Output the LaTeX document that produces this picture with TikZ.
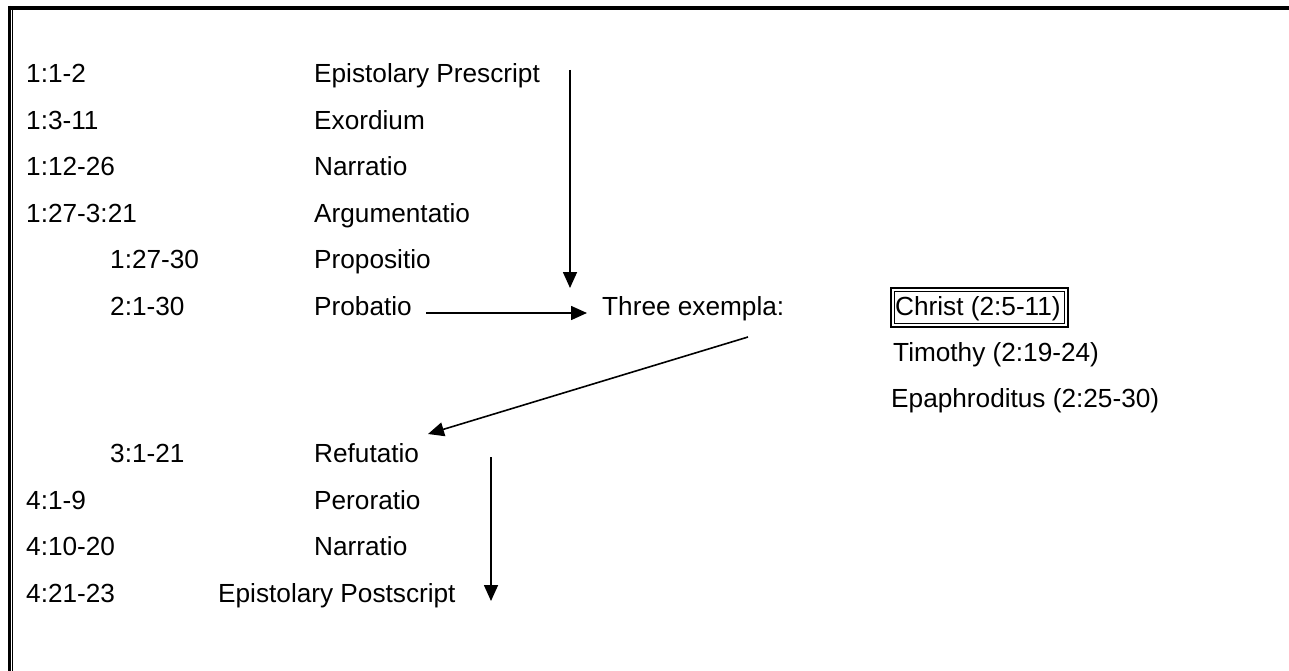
\documentclass[tikz,border=0pt]{standalone}
\usepackage{fontspec}
\setmainfont{Liberation Sans}
\usetikzlibrary{arrows.meta}
\begin{document}
\begin{tikzpicture}[x=1pt,y=-1pt,
  lbl/.style={anchor=base west,inner sep=0pt,font=\fontsize{26.2}{30}\selectfont},
  conn/.style={line width=1.6pt,-{Triangle[length=16pt,width=14pt]}},
  frame/.style={line width=#1}]
\useasboundingbox (0,0) rectangle (1289,671);
\fill[white] (0,0) rectangle (1289,671);
% page frame
\draw[frame=4pt] (8,8) -- (1289,8);
\draw[frame=3pt] (9.5,6) -- (9.5,671);
\draw[frame=1.3pt] (12.8,10) -- (12.8,671);
% rows
\node[lbl] (r1a) at (26,83) {1:1-2};
\node[lbl] (r1b) at (314,83) {Epistolary Prescript};
\node[lbl] (r2a) at (26,129.4) {1:3-11};
\node[lbl] (r2b) at (314,129.4) {Exordium};
\node[lbl] (r3a) at (26,175.8) {1:12-26};
\node[lbl] (r3b) at (314,175.8) {Narratio};
\node[lbl] (r4a) at (26,222.2) {1:27-3:21};
\node[lbl] (r4b) at (314,222.2) {Argumentatio};
\node[lbl] (r5a) at (110,268.6) {1:27-30};
\node[lbl] (r5b) at (314,268.6) {Propositio};
\node[lbl] (r6a) at (110,315) {2:1-30};
\node[lbl] (probatio) at (314,315) {Probatio};
\node[lbl] (three) at (602,315) {Three exempla:};
\node[lbl] (christ) at (895,315) {Christ (2:5-11)};
\node[lbl] (timothy) at (893,361.4) {Timothy (2:19-24)};
\node[lbl] (epaph) at (891,407.8) {Epaphroditus (2:25-30)};
\node[lbl] (r9a) at (110,462.8) {3:1-21};
\node[lbl] (refut) at (314,462.8) {Refutatio};
\node[lbl] (r10a) at (26,509.2) {4:1-9};
\node[lbl] (r10b) at (314,509.2) {Peroratio};
\node[lbl] (r11a) at (26,555.6) {4:10-20};
\node[lbl] (r11b) at (314,555.6) {Narratio};
\node[lbl] (r12a) at (26,602) {4:21-23};
\node[lbl] (postscript) at (218,602) {Epistolary Postscript};
% Christ double box
\draw[line width=1.3pt] (891,288) rectangle (1068,327);
\draw[line width=1pt] (894.5,291.5) rectangle (1064.5,323.5);
% connector end points
\coordinate (a1s) at (570,70);
\coordinate (a1e) at (570,288);
\coordinate (a2s) at (426,313);
\coordinate (a2e) at (587,313);
\coordinate (a3s) at (748,337);
\coordinate (a3e) at (428,434);
\coordinate (a4s) at (491,457);
\coordinate (a4e) at (491,601);
\draw[conn] (a1s) -- (a1e);
\draw[conn] (a2s) -- (a2e);
\draw[conn] (a3s) -- (a3e);
\draw[conn] (a4s) -- (a4e);
\end{tikzpicture}
\end{document}
